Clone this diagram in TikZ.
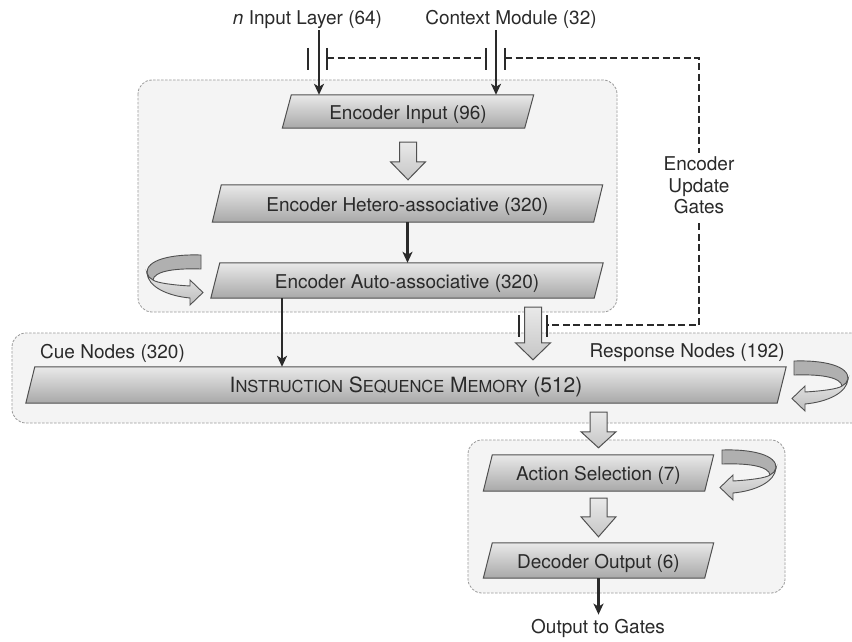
\documentclass[tikz,border=0pt]{standalone}
\usepackage{fontspec}
\setmainfont{TeX Gyre Heros}
\usetikzlibrary{arrows.meta,calc}
\pgfdeclarelayer{back}
\pgfdeclarelayer{mid}
\pgfsetlayers{back,mid,main}

\definecolor{ink}{HTML}{2A2A2A}
\definecolor{edge}{HTML}{505050}
\definecolor{panel}{HTML}{F4F4F4}
\definecolor{panelline}{HTML}{9A9A9A}
\definecolor{boxtop}{HTML}{E9E9E9}
\definecolor{boxbot}{HTML}{A8A8A8}

% parallelogram box: name, x, y, width, height, text
\newcommand\slantbox[6]{%
  \node[boxtext, minimum width=#4pt, minimum height=#5pt] (#1) at (#2,#3) {#6};
  \begin{pgfonlayer}{mid}
    \path[boxface] ([xshift=4.5pt]#1.north west) -- ([xshift=4.5pt]#1.north east)
      -- ([xshift=-4.5pt]#1.south east) -- ([xshift=-4.5pt]#1.south west) -- cycle;
  \end{pgfonlayer}}

% broad downward arrow: start point, tip point, head length
\newcommand\blockdown[3]{%
  \path[blockarrow] let \p1=#1, \p2=#2 in
    (\x1-8.5pt,\y1) -- (\x1+8.5pt,\y1) -- (\x1+8.5pt,\y2+#3) -- (\x1+17.5pt,\y2+#3)
    -- (\x1,\y2) -- (\x1-17.5pt,\y2+#3) -- (\x1-8.5pt,\y2+#3) -- cycle;}

\newcommand\smallcap[1]{{\fontsize{16.5}{18}\selectfont #1}}

\tikzset{
  swback/.style={draw=edge, line width=0.9pt, fill=gray!62},
  swfront/.style={draw=edge, line width=0.9pt, top color=gray!18, bottom color=gray!52},
  swirl/.pic={
    \path[swback] (0,0) .. controls (-30,-1) and (-55,5) .. (-54,18)
       .. controls (-53.5,22) and (-51,24) .. (-48,25)
       .. controls (-47,17) and (-30,13) .. (0,14) -- cycle;
    \path[swfront] (-54,18) .. controls (-53,32) and (-33,41) .. (-11,43)
       -- (-11,50) -- (2,37.5) -- (-11,25) -- (-11,31)
       .. controls (-28,30) and (-44,28) .. (-48,25)
       .. controls (-51,23.5) and (-53.5,21) .. (-54,18) -- cycle;
  }
}

\begin{document}
\begin{tikzpicture}[x=1pt,y=-1pt,
  lbl/.style={font=\fontsize{19}{21.5}\selectfont, text=ink, inner sep=0pt},
  boxtext/.style={lbl, text height=15pt, text depth=0pt},
  boxface/.style={draw=edge, line width=1pt, top color=boxtop, bottom color=boxbot},
  blockarrow/.style={draw=edge, line width=1pt, top color=boxtop, bottom color=gray!45},
  panelbox/.style={draw=panelline, fill=panel, line width=0.8pt,
    dash pattern=on 2.5pt off 1.5pt, rounded corners=14pt},
  ar/.style={draw=ink, line width=2.4pt, -{Stealth[length=11pt,width=10pt,inset=3pt]}},
  bar/.style={draw=ink, line width=2.6pt},
  gline/.style={draw=ink, line width=2.6pt, dash pattern=on 7pt off 3.5pt}]

\useasboundingbox (0,0) rectangle (852,642);

% grouping panels
\begin{pgfonlayer}{back}
  \fill[white] (0,0) rectangle (852,642);
  \path[panelbox] (138,80) rectangle (617,312);
  \path[panelbox] (12,333) rectangle (890,423);
  \path[panelbox] (468,440) rectangle (785,593);
\end{pgfonlayer}

% layer boxes
\slantbox{ein}{408}{111.5}{242}{33}{Encoder Input (96)}
\slantbox{het}{407.5}{203.5}{381}{37}{Encoder Hetero-associative (320)}
\slantbox{aut}{407}{280.5}{383}{35}{Encoder Auto-associative (320)}
\slantbox{ism}{406}{385}{751}{36}{\fontsize{21}{24}\selectfont
  I\smallcap{NSTRUCTION} S\smallcap{EQUENCE} M\smallcap{EMORY} (512)}
\slantbox{act}{598.5}{473}{221}{36}{Action Selection (7)}
\slantbox{dec}{598.5}{560.5}{221}{35}{Decoder Output (6)}

% free labels
\node[lbl, anchor=base] (inl) at (307.5,24.5) {\textit{n} Input Layer (64)};
\node[lbl, anchor=base] (ctx) at (511,24.5) {Context Module (32)};
\node[lbl, anchor=base west] (cue) at (40,358) {Cue Nodes (320)};
\node[lbl, anchor=base east] (resp) at (785,357) {Response Nodes (192)};
\node[lbl, anchor=base] (outg) at (598,633) {Output to Gates};
\node[lbl, align=center, inner sep=4pt] (eug) at (699,185.5) {Encoder\\Update\\Gates};

% input connectors
\coordinate (inA) at ([xshift=-89pt]ein.north);
\coordinate (ctA) at ([xshift=88pt]ein.north);
\draw[ar, shorten <=1.5pt] (inl.south -| inA) -- (inA);
\draw[ar, shorten <=1.5pt] (ctx.south -| ctA) -- (ctA);

% encoder chain
\blockdown{([yshift=-14pt]ein.south)}{([yshift=5pt]het.north)}{18pt}
\draw[ar] (het.south) -- (het.south |- aut.north);
\coordinate (cueIn) at ([xshift=-125pt]aut.south);
\draw[ar] (cueIn) -- (cueIn |- ism.north);
\blockdown{([xshift=126pt,yshift=-9pt]aut.south)}{([yshift=7pt]ism.north)}{17pt}

% memory to output stage
\coordinate (memOut) at (ism.south -| act.north);
\blockdown{([yshift=-9pt]memOut)}{([yshift=7pt]act.north)}{16pt}
\blockdown{([yshift=-7pt]act.south)}{([yshift=6pt]dec.north)}{20pt}
\draw[ar, shorten >=4pt] (dec.south) -- (dec.south |- outg.north);

% gates
\draw[bar] (308,48) -- (308,70);
\draw[bar] (327,48) -- (327,70);
\draw[bar] (486,48) -- (486,70);
\draw[bar] (505,48) -- (505,70);
\draw[bar] (519,315) -- (519,337);
\draw[bar] (547,315) -- (547,337);
\coordinate (gA) at (327,58);
\coordinate (gB) at (486,58);
\coordinate (gC) at (505,58);
\coordinate (gD) at (547,325);
\draw[gline] (gA) -- (gB);
\draw[gline] (gC) -| (eug.north);
\draw[gline, shorten <=5pt] (eug.south) |- (gD);

% recurrent loops
\pic at (201,255) {swirl};
\pic[xscale=-1] at (794,361) {swirl};
\pic[xscale=-1] at (722,450) {swirl};

\end{tikzpicture}
\end{document}
